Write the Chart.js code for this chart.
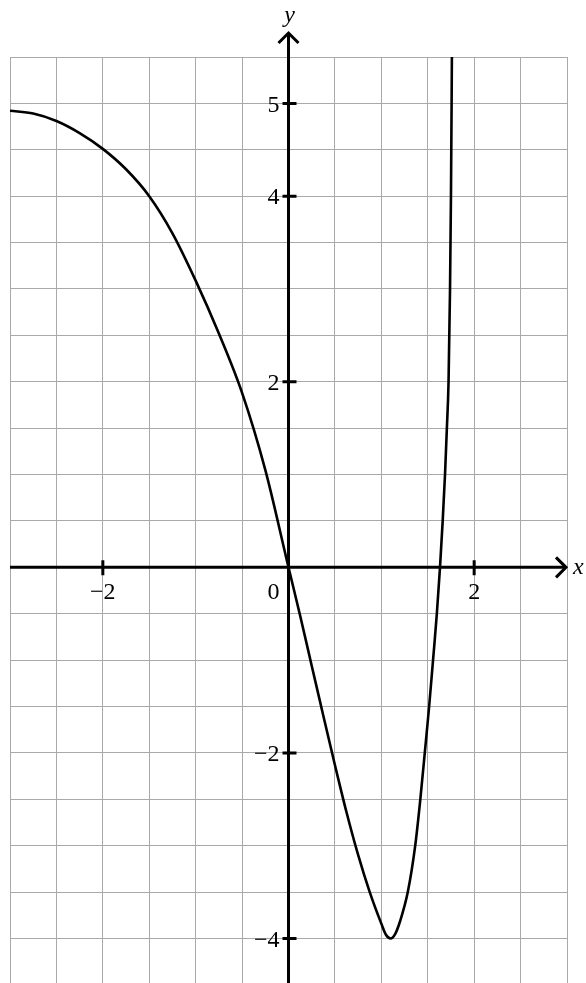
<!DOCTYPE html>
<html>
<head>
<meta charset="utf-8">
<script src="https://cdn.jsdelivr.net/npm/chart.js@4.4.0/dist/chart.umd.min.js"></script>
<style>
  html, body { margin: 0; padding: 0; background: #fff; }
  canvas { display: block; }
</style>
</head>
<body>
<canvas id="graph" width="586" height="983"></canvas>
<script>
// points on the curve, read along the grid
const curveX = [-3, -2.75, -2.5, -2.25, -2, -1.75, -1.5, -1.25, -1, -0.75, -0.5, -0.25, 0,
  0.125, 0.25, 0.375, 0.5, 0.625, 0.75, 0.875, 1.0, 1.05, 1.1, 1.15, 1.2,
  1.285, 1.365, 1.42, 1.468, 1.515, 1.557, 1.598, 1.632, 1.661, 1.686, 1.706, 1.724,
  1.74, 1.75, 1.757, 1.76];
const curveY = [4.92, 4.89, 4.81, 4.68, 4.51, 4.29, 4.0, 3.6, 3.09, 2.52, 1.88, 1.05, 0,
  -0.52, -1.06, -1.6, -2.13, -2.64, -3.1, -3.5, -3.84, -3.96, -4.0, -3.95, -3.82,
  -3.5, -3.0, -2.5, -2.0, -1.5, -1.0, -0.5, 0, 0.5, 1.0, 1.5, 2.0,
  3.0, 4.0, 5.0, 5.5];

const xTicks = [-2, 2];
const yTicks = [5, 4, 2, -2, -4];
const xRange = [-3, 3];
const yRange = [-4.48, 5.5];
const gridStep = 0.5;

const points = curveX.map((x, i) => ({ x: x, y: curveY[i] }));

function fmt(v) {
  return v < 0 ? '\u2212' + Math.abs(v) : String(v);
}

// keep only grid lines on the half-unit steps
function halfSteps(scale) {
  scale.ticks = scale.ticks.filter(t => Math.abs(t.value / gridStep - Math.round(t.value / gridStep)) < 1e-6);
}

const axesPlugin = {
  id: 'axes',
  afterDatasetsDraw(chart) {
    const ctx = chart.ctx;
    const xs = chart.scales.x, ys = chart.scales.y;
    const area = chart.chartArea;
    const ox = xs.getPixelForValue(0);
    const oy = ys.getPixelForValue(0);
    const tipX = area.right - 1;
    const tipY = area.top - 24;

    ctx.save();
    ctx.strokeStyle = '#000';
    ctx.fillStyle = '#000';
    ctx.lineWidth = 3;
    ctx.lineJoin = 'miter';

    // axis lines
    ctx.beginPath();
    ctx.moveTo(area.left, oy);
    ctx.lineTo(tipX, oy);
    ctx.moveTo(ox, chart.height);
    ctx.lineTo(ox, tipY);
    ctx.stroke();

    // arrow heads
    ctx.beginPath();
    ctx.moveTo(tipX - 10, oy - 10);
    ctx.lineTo(tipX, oy);
    ctx.lineTo(tipX - 10, oy + 10);
    ctx.moveTo(ox - 10, tipY + 10);
    ctx.lineTo(ox, tipY);
    ctx.lineTo(ox + 10, tipY + 10);
    ctx.stroke();

    // tick marks
    ctx.beginPath();
    xTicks.forEach(v => {
      const px = xs.getPixelForValue(v);
      ctx.moveTo(px, oy - 7);
      ctx.lineTo(px, oy + 8);
    });
    yTicks.forEach(v => {
      const py = ys.getPixelForValue(v);
      ctx.moveTo(ox - 6, py);
      ctx.lineTo(ox + 8, py);
    });
    ctx.stroke();

    // tick labels
    ctx.font = '24px "Liberation Serif", "DejaVu Serif", serif';
    ctx.textBaseline = 'alphabetic';
    ctx.textAlign = 'center';
    xTicks.forEach(v => {
      ctx.fillText(fmt(v), xs.getPixelForValue(v), oy + 32);
    });
    ctx.textAlign = 'right';
    ctx.fillText('0', ox - 9, oy + 32);
    ctx.textBaseline = 'middle';
    yTicks.forEach(v => {
      ctx.fillText(fmt(v), ox - 9, ys.getPixelForValue(v) + 2);
    });

    // axis names
    ctx.font = 'italic 24px "Liberation Serif", "DejaVu Serif", serif';
    ctx.textBaseline = 'alphabetic';
    ctx.textAlign = 'center';
    ctx.fillText('y', ox + 1, tipY - 11);
    ctx.textAlign = 'left';
    ctx.fillText('x', area.right + 6, oy + 7);
    ctx.restore();
  }
};

const chart = new Chart(document.getElementById('graph').getContext('2d'), {
  type: 'line',
  data: {
    datasets: [{
      label: 'f',
      data: points,
      borderColor: '#000',
      borderWidth: 2.6,
      pointRadius: 0,
      fill: false,
      cubicInterpolationMode: 'monotone'
    }]
  },
  options: {
    responsive: false,
    animation: false,
    devicePixelRatio: 1,
    layout: { padding: { left: 10, right: 19, top: 57, bottom: 0 } },
    plugins: { legend: { display: false }, tooltip: { enabled: false } },
    scales: {
      x: {
        type: 'linear',
        min: xRange[0],
        max: xRange[1],
        ticks: { display: false, stepSize: gridStep },
        grid: { color: '#a9a9a9', lineWidth: 1, drawTicks: false },
        border: { display: false },
        afterBuildTicks: halfSteps
      },
      y: {
        type: 'linear',
        min: yRange[0],
        max: yRange[1],
        ticks: { display: false, stepSize: gridStep },
        grid: { color: '#a9a9a9', lineWidth: 1, drawTicks: false },
        border: { display: false },
        afterBuildTicks: halfSteps
      }
    }
  },
  plugins: [axesPlugin]
});
</script>
</body>
</html>
